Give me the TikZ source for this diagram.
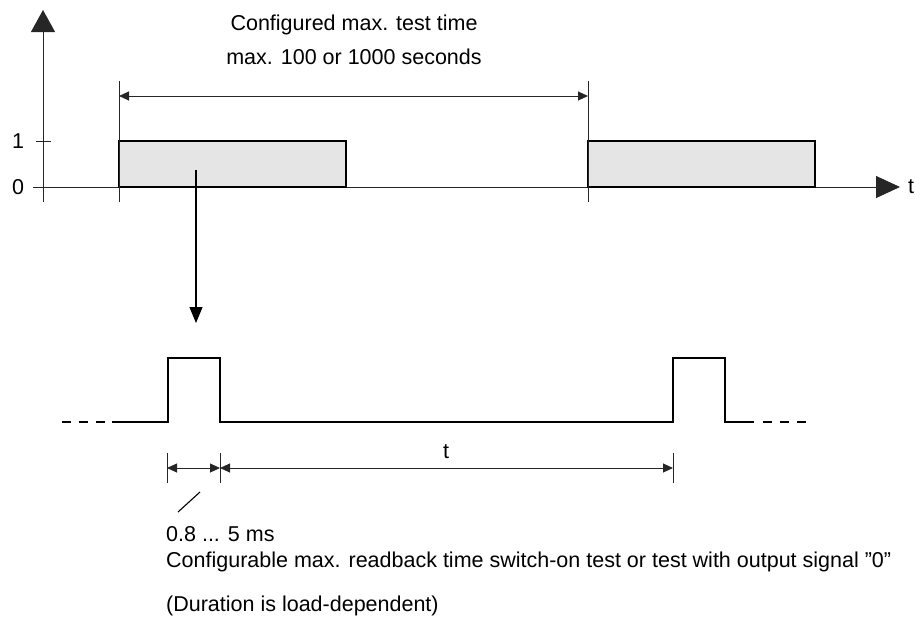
\documentclass[tikz,border=0pt]{standalone}
\usepackage{fontspec}
\setmainfont{Liberation Sans}
\usetikzlibrary{arrows.meta}
\begin{document}
\begin{tikzpicture}[x=1pt,y=-1pt,
  thinline/.style={line width=0.9pt,black!85},
  block/.style={line width=1.6pt,fill=black!10,draw=black},
  pulse/.style={line width=2pt,black},
  dashpart/.style={line width=2pt,black,dash pattern=on 9pt off 8pt},
  bigtip/.style={-{Triangle[length=22pt,width=24pt]}},
  dim/.style={line width=0.9pt,black!85,{Triangle[length=10pt,width=9pt]}-{Triangle[length=10pt,width=9pt]}},
  lbl/.style={font=\fontsize{21.5}{25}\selectfont,inner sep=0pt},
]
\useasboundingbox (0,0) rectangle (915,621);
% axes
\coordinate (yb) at (43,202);
\coordinate (yt) at (43,10);
\coordinate (xl) at (33,187);
\coordinate (xr) at (900,187);
\draw[thinline,bigtip] (yb) -- (yt);
\draw[thinline,-{Triangle[length=24pt,width=22pt]}] (xl) -- (xr);
\node[lbl] (tlab) at (911,187) {t};
\coordinate (t1a) at (36,141);
\coordinate (t1b) at (51,141);
\draw[thinline] (t1a) -- (t1b);
\node[lbl] (one) at (18,141) {1};
\node[lbl] (zero) at (18,187) {0};
% blocks
\draw[block] (119,187) rectangle (346,141);
\draw[block] (588,187) rectangle (815,141);
% vertical markers
\coordinate (v1t) at (119,81); \coordinate (v1b) at (119,202);
\coordinate (v2t) at (588,81); \coordinate (v2b) at (588,202);
\draw[thinline] (v1t) -- (v1b);
\draw[thinline] (v2t) -- (v2b);
\coordinate (d1l) at (119,96); \coordinate (d1r) at (588,96);
\draw[dim] (d1l) -- (d1r);
\node[lbl] (cfg1) at (354,25) {Configured max. test time};
\node[lbl] (cfg2) at (354,57) {max. 100 or 1000 seconds};
% down arrow
\coordinate (da) at (196,170); \coordinate (db) at (196,323);
\draw[line width=1.2pt,-{Triangle[length=16pt,width=13pt]}] (da) -- (db);
% pulse train
\coordinate (p0) at (62,422);
\coordinate (p1) at (112,422);
\draw[dashpart] (p0) -- (p1);
\draw[pulse] (p1) -- (168,422) -- (168,358) -- (220,358) -- (220,422) -- (673,422) -- (673,358) -- (725,358) -- (725,422) -- (754,422);
\coordinate (q0) at (763,422);
\coordinate (q1) at (810,422);
\draw[dashpart] (q0) -- (q1);
% lower dimensions
\coordinate (k1t) at (167,453); \coordinate (k1b) at (167,483);
\coordinate (k2t) at (220,453); \coordinate (k2b) at (220,483);
\coordinate (k3t) at (673,453); \coordinate (k3b) at (673,483);
\draw[thinline] (k1t) -- (k1b);
\draw[thinline] (k2t) -- (k2b);
\draw[thinline] (k3t) -- (k3b);
\coordinate (m1) at (167,468); \coordinate (m2) at (220,468); \coordinate (m3) at (673,468);
\draw[dim] (m1) -- (m2);
\draw[dim] (m2) -- (m3);
\node[lbl] (tdim) at (446,452) {t};
\coordinate (s1) at (178,512); \coordinate (s2) at (200,492);
\draw[line width=1.1pt] (s1) -- (s2);
\node[lbl,anchor=west] (ms) at (166,534) {0.8 ... 5 ms};
\node[lbl,anchor=west] (cfgr) at (166,562) {Configurable max. readback time switch-on test or test with output signal \symbol{34}0\symbol{34}};
\node[lbl,anchor=west] (dur) at (166,606) {(Duration is load-dependent)};
\end{tikzpicture}
\end{document}
